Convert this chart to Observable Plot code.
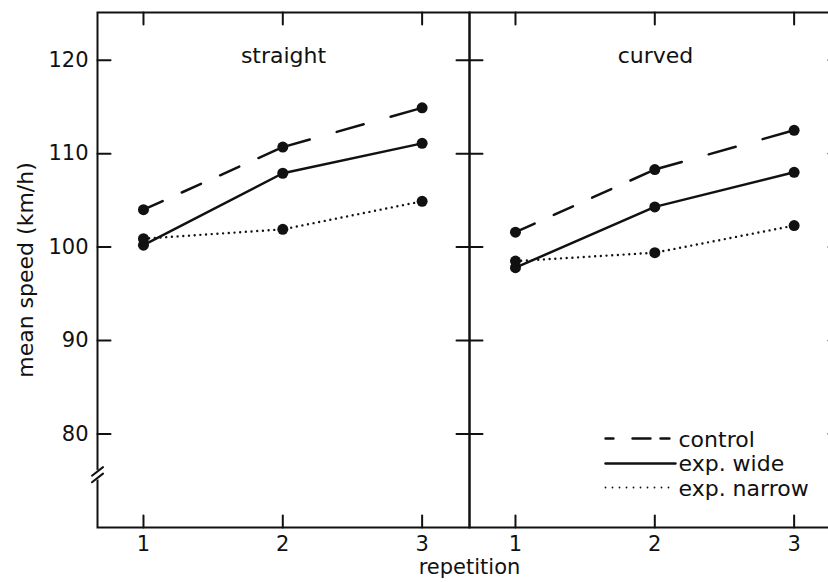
<!DOCTYPE html>
<html><head><meta charset="utf-8">
<script src="https://cdn.jsdelivr.net/npm/d3@7"></script>
<script src="https://cdn.jsdelivr.net/npm/@observablehq/plot@0.6"></script>
<style>html,body{margin:0;padding:0;background:#fff;overflow:hidden;width:828px;height:582px}svg{max-width:none !important}</style>
</head><body><div id="chart"></div>
<script>
const panels = ["straight", "curved"];
const repetitions = [1, 2, 3];
const groups = ["control", "exp. wide", "exp. narrow"];
const straightControl = [104.0, 110.7, 114.9];
const straightWide = [100.2, 107.9, 111.1];
const straightNarrow = [100.9, 101.9, 104.9];
const curvedControl = [101.6, 108.3, 112.5];
const curvedWide = [97.8, 104.3, 108.0];
const curvedNarrow = [98.5, 99.4, 102.3];
const yTicks = [80, 90, 100, 110, 120];
const yLabel = "mean speed (km/h)";
const xLabel = "repetition";
const breakAt = [76.0, 75.3];

const series = {
  straight: {"control": straightControl, "exp. wide": straightWide, "exp. narrow": straightNarrow},
  curved: {"control": curvedControl, "exp. wide": curvedWide, "exp. narrow": curvedNarrow}
};
const rows = [];
for (const p of panels) for (const g of groups)
  repetitions.forEach((r, i) => rows.push({panel: p, group: g, rep: r, speed: series[p][g][i]}));

const yTickRows = panels.flatMap(p => yTicks.map(v => ({panel: p, v})));
const xTickRows = panels.flatMap(p => repetitions.map(v => ({panel: p, v})));

const lineShape = {draw(context, l) { context.moveTo(0, 0); context.lineTo(0, -l); }};
const ink = "#111";
const first = () => panels[0];
const second = () => panels[1];

const chart = Plot.plot({
  width: 841, height: 582,
  marginLeft: 97, marginRight: 0, marginTop: 12, marginBottom: 55,
  style: {fontFamily: "DejaVu Sans", fontSize: "21px", color: ink, background: "#fff", maxWidth: "none"},
  fx: {domain: panels, padding: 0, axis: null},
  x: {domain: [0.67, 3.34]},
  y: {domain: [70, 125.1]},
  marks: [
    Plot.frame({stroke: ink, strokeWidth: 2}),
    Plot.axisY(yTicks, {anchor: "left", tickSize: 0, tickPadding: 9, label: null, fontSize: 21}),
    Plot.axisX(repetitions, {anchor: "bottom", tickSize: 0, tickPadding: 9, tickFormat: d3.format("d"), label: null, fontSize: 21}),
    // inward ticks on every panel edge
    Plot.vector(yTickRows, {fx: "panel", y: "v", frameAnchor: "left", anchor: "start", rotate: 90, length: 13, shape: lineShape, stroke: ink, strokeWidth: 2}),
    Plot.vector(yTickRows, {fx: "panel", y: "v", frameAnchor: "right", anchor: "start", rotate: -90, length: 13, shape: lineShape, stroke: ink, strokeWidth: 2}),
    Plot.vector(xTickRows, {fx: "panel", x: "v", frameAnchor: "bottom", anchor: "start", rotate: 0, length: 12, shape: lineShape, stroke: ink, strokeWidth: 2}),
    Plot.vector(xTickRows, {fx: "panel", x: "v", frameAnchor: "top", anchor: "start", rotate: 180, length: 12, shape: lineShape, stroke: ink, strokeWidth: 2}),
    // axis break
    Plot.vector([d3.mean(breakAt)], {fx: first, y: d => d, frameAnchor: "left", anchor: "middle", length: 6, rotate: 0, shape: lineShape, stroke: "#fff", strokeWidth: 4}),
    Plot.vector(breakAt, {fx: first, y: d => d, frameAnchor: "left", anchor: "middle", length: 14, rotate: 52, shape: lineShape, stroke: ink, strokeWidth: 2}),
    // data lines
    Plot.line(rows.filter(d => d.group === "control" && d.rep <= 2), {x: "rep", y: "speed", fx: "panel", stroke: ink, strokeWidth: 2.5, strokeDasharray: "21,21"}),
    Plot.line(rows.filter(d => d.group === "control" && d.rep >= 2), {x: "rep", y: "speed", fx: "panel", stroke: ink, strokeWidth: 2.5, strokeDasharray: "28,28"}),
    Plot.line(rows.filter(d => d.group === "exp. wide"), {x: "rep", y: "speed", fx: "panel", stroke: ink, strokeWidth: 2.5}),
    Plot.line(rows.filter(d => d.group === "exp. narrow"), {x: "rep", y: "speed", fx: "panel", stroke: ink, strokeWidth: 2.4, strokeDasharray: "0,5.7", strokeLinecap: "round"}),
    Plot.dot(rows, {x: "rep", y: "speed", fx: "panel", r: 5.5, fill: ink, stroke: null}),
    // panel titles
    Plot.text(panels, {fx: d => d, text: d => d, frameAnchor: "top", dy: 43, textAnchor: "middle", lineAnchor: "middle", fontSize: 22}),
    // axis titles
    Plot.text([yLabel], {fx: first, text: d => d, frameAnchor: "left", rotate: -90, dx: -72, textAnchor: "middle", lineAnchor: "middle", fontSize: 22}),
    Plot.text([xLabel], {fx: first, text: d => d, frameAnchor: "bottom-right", dy: 40, textAnchor: "middle", lineAnchor: "middle", fontSize: 21}),
    // legend
    Plot.vector([groups[0]], {fx: second, frameAnchor: "bottom-left", dx: 136, dy: -89, anchor: "start", rotate: 90, length: 64, shape: lineShape, stroke: ink, strokeWidth: 2.4, strokeDasharray: "8,19,18,10,9,100"}),
    Plot.vector([groups[1]], {fx: second, frameAnchor: "bottom-left", dx: 136, dy: -64, anchor: "start", rotate: 90, length: 70, shape: lineShape, stroke: ink, strokeWidth: 2.4}),
    Plot.vector([groups[2]], {fx: second, frameAnchor: "bottom-left", dx: 136, dy: -40, anchor: "start", rotate: 90, length: 70, shape: lineShape, stroke: ink, strokeWidth: 1.8, strokeDasharray: "0,7", strokeLinecap: "round"}),
    Plot.text([groups.join("\n")], {fx: second, text: d => d, frameAnchor: "bottom-left", dx: 209, dy: -64, textAnchor: "start", lineAnchor: "middle", lineHeight: 1.12, fontSize: 22})
  ]
});
document.getElementById("chart").append(chart);
</script>
</body></html>
